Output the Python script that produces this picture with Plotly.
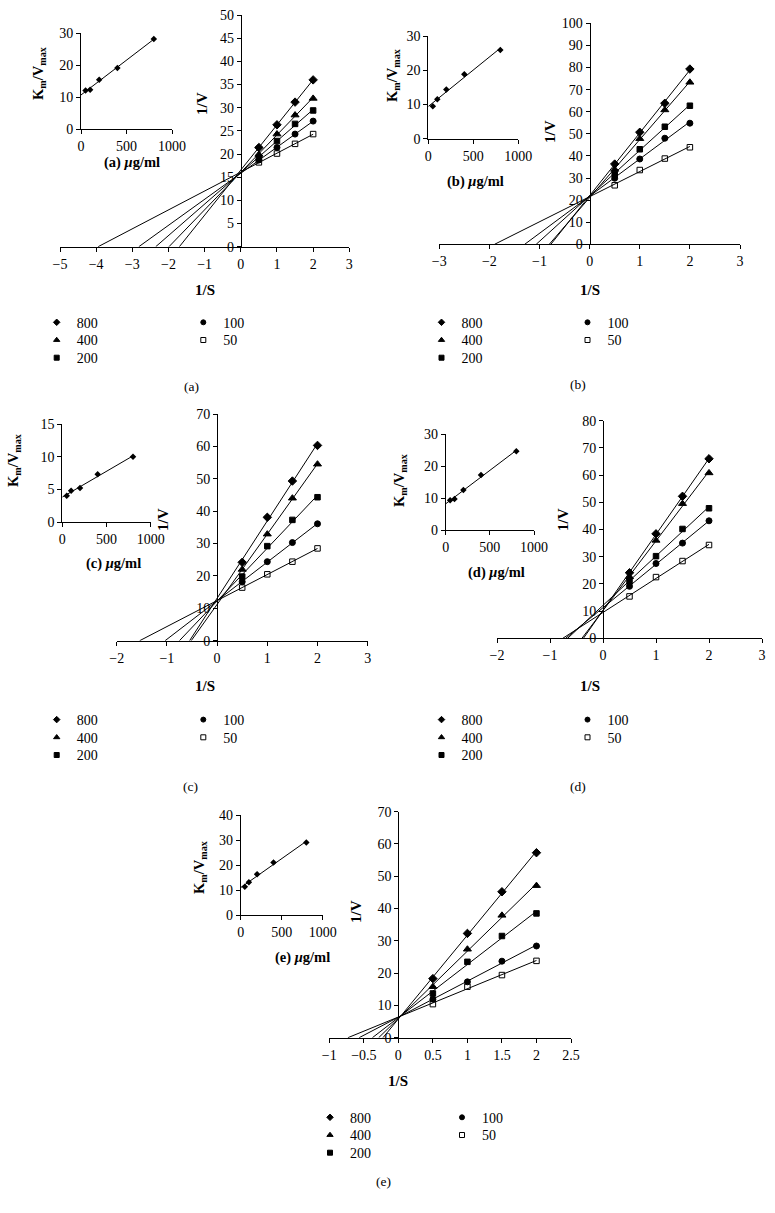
import numpy as np
import plotly.graph_objects as go

W, H = 775, 1213
FONT = "Liberation Serif"

# ---------------- data ----------------
inv_s = [0.5, 1.0, 1.5, 2.0]              # 1/S
inhibitor = [50, 100, 200, 400, 800]      # µg/ml (inset x)
series_names = ["800", "400", "200", "100", "50"]

# panel (a)
a_800 = [21.4, 26.3, 31.2, 36.0]
a_400 = [19.9, 24.3, 28.4, 32.0]
a_200 = [19.3, 22.8, 26.5, 29.4]
a_100 = [18.7, 21.4, 24.3, 27.1]
a_50 = [18.2, 20.1, 22.2, 24.3]
a_km = [12.0, 12.3, 15.4, 19.1, 28.1]

# panel (b)
b_800 = [36.3, 50.7, 63.8, 79.3]
b_400 = [33.9, 47.8, 60.8, 73.3]
b_200 = [31.8, 43.0, 53.2, 62.7]
b_100 = [29.9, 38.6, 48.0, 54.8]
b_50 = [26.7, 33.6, 38.8, 43.9]
b_km = [9.5, 11.5, 14.4, 18.8, 25.9]

# panel (c)
c_800 = [24.2, 38.1, 49.3, 60.3]
c_400 = [22.0, 32.9, 44.0, 54.5]
c_200 = [19.8, 29.2, 37.3, 44.3]
c_100 = [18.2, 24.4, 30.3, 36.1]
c_50 = [16.4, 20.5, 24.4, 28.5]
c_km = [4.0, 4.8, 5.2, 7.3, 10.0]

# panel (d)
d_800 = [24.1, 38.4, 52.2, 66.0]
d_400 = [22.6, 36.0, 49.5, 60.8]
d_200 = [20.9, 30.2, 40.2, 47.8]
d_100 = [19.1, 27.5, 35.0, 43.2]
d_50 = [15.4, 22.5, 28.4, 34.3]
d_km = [9.3, 9.7, 12.5, 17.2, 24.6]

# panel (e)
e_800 = [18.3, 32.3, 45.2, 57.3]
e_400 = [15.8, 27.4, 37.9, 47.1]
e_200 = [13.7, 23.5, 31.5, 38.5]
e_100 = [11.9, 17.3, 23.7, 28.4]
e_50 = [10.4, 15.8, 19.4, 23.8]
e_km = [11.3, 13.1, 16.3, 21.0, 29.0]

# ---------------- layout specs (pixels) ----------------
def fx(px):
    return px / W

def fy(py):
    return 1 - py / H

panels = [
    dict(tag="a", series=[a_800, a_400, a_200, a_100, a_50], km=a_km,
         xr=[-5, 3], xd=1, yr=[0, 50], yd=5, main=(60, 349.3, 15, 246.7),
         ir=[0, 30], idy=10, inset=(81, 172, 33, 129),
         vlab=(202, 103), slab=(205, 290), klab=(39, 73), ulab=(131.7, 163),
         legx=(60.7, 207.3), legy=322.7, plab=(191.7, 386)),
    dict(tag="b", series=[b_800, b_400, b_200, b_100, b_50], km=b_km,
         xr=[-3, 3], xd=1, yr=[0, 100], yd=10, main=(439.3, 740, 23.3, 244.3),
         ir=[0, 30], idy=10, inset=(428.3, 518.3, 36, 138.7),
         vlab=(550, 132), slab=(590, 290), klab=(393, 75), ulab=(475, 181.7),
         legx=(445.5, 591.5), legy=322.7, plab=(578, 385)),
    dict(tag="c", series=[c_800, c_400, c_200, c_100, c_50], km=c_km,
         xr=[-2, 3], xd=1, yr=[0, 70], yd=10, main=(116.7, 367.7, 414, 640.7),
         ir=[0, 15], idy=5, inset=(62.3, 150.7, 424, 522),
         vlab=(163, 520), slab=(205, 686), klab=(14, 460), ulab=(113, 563),
         legx=(60.7, 207.3), legy=720, plab=(190, 786)),
    dict(tag="d", series=[d_800, d_400, d_200, d_100, d_50], km=d_km,
         xr=[-2, 3], xd=1, yr=[0, 80], yd=10, main=(497, 762, 420.7, 638.3),
         ir=[0, 30], idy=10, inset=(445.7, 534, 434, 530),
         vlab=(563, 520), slab=(590, 686), klab=(400, 480), ulab=(496, 573),
         legx=(445.5, 591.5), legy=720, plab=(578, 786)),
    dict(tag="e", series=[e_800, e_400, e_200, e_100, e_50], km=e_km,
         xr=[-1, 2.5], xd=0.5, yr=[0, 70], yd=10, main=(329.3, 571, 811.7, 1037.7),
         ir=[0, 40], idy=10, inset=(240.7, 322.7, 815, 915),
         vlab=(356, 912), slab=(398, 1081), klab=(200, 867), ulab=(302, 957),
         legx=(334, 466), legy=1117.7, plab=(383, 1181)),
]

symbols = ["diamond", "triangle-up", "square", "circle", "square-open"]
msizes = [6.5, 7, 5.5, 6, 5.5]
leg_sizes = [5, 5.5, 5, 5, 5]
ROW = 17.7          # legend row spacing (px)
LEG_LEFT = 24       # legend box left edge relative to symbol position (px)

fig = go.Figure()
layout = dict(
    width=W, height=H, margin=dict(l=0, r=0, t=0, b=0),
    paper_bgcolor="white", plot_bgcolor="white",
    font=dict(family=FONT, color="black", size=13),
    showlegend=True, annotations=[],
)

def axis_common(**kw):
    d = dict(showgrid=False, zeroline=False, showline=True, linecolor="black",
             linewidth=1, ticks="outside", ticklen=4, tickcolor="black",
             tickwidth=1, tickfont=dict(family=FONT, size=14, color="black"),
             automargin=False, fixedrange=True, ticklabeloverflow="allow")
    d.update(kw)
    return d

leg_counter = 0
for i, p in enumerate(panels):
    m_idx = 2 * i + 1
    n_idx = 2 * i + 2
    xm, ym = f"x{m_idx}", f"y{m_idx}"
    xn, yn = f"x{n_idx}", f"y{n_idx}"

    x0p, x1p, ytp, ybp = p["main"]
    xr, yr = p["xr"], p["yr"]
    zero_px = x0p + (0 - xr[0]) / (xr[1] - xr[0]) * (x1p - x0p)

    layout[f"xaxis{m_idx}"] = axis_common(
        domain=[fx(x0p), fx(x1p)], range=xr, dtick=p["xd"], tick0=0,
        anchor=ym)
    layout[f"yaxis{m_idx}"] = axis_common(
        domain=[fy(ybp), fy(ytp)], range=yr, dtick=p["yd"], tick0=0,
        anchor="free", position=fx(zero_px))

    # trendlines (least squares, extended back to 1/V = 0)
    for k, (name, vals) in enumerate(zip(series_names, p["series"])):
        slope, icpt = np.polyfit(inv_s, vals, 1)
        root = -icpt / slope
        xl = [root, inv_s[-1]]
        yl = [slope * root + icpt, slope * inv_s[-1] + icpt]
        fig.add_trace(go.Scatter(x=xl, y=yl, mode="lines",
                                 line=dict(color="black", width=1),
                                 xaxis=xm, yaxis=ym, showlegend=False,
                                 hoverinfo="skip"))
    for k, (name, vals) in enumerate(zip(series_names, p["series"])):
        fig.add_trace(go.Scatter(
            x=inv_s, y=vals, mode="markers", name=name,
            marker=dict(symbol=symbols[k], size=msizes[k], color="black",
                        line=dict(color="black", width=1)),
            xaxis=xm, yaxis=ym, showlegend=False))

    # legend entries: one small legend per row
    for k, name in enumerate(series_names):
        leg_counter += 1
        lid = "legend" if leg_counter == 1 else f"legend{leg_counter}"
        col = 0 if k < 3 else 1
        row = k if k < 3 else k - 3
        mx = p["legx"][col]
        my = p["legy"] + row * ROW
        fig.add_trace(go.Scatter(
            x=[None], y=[None], mode="markers", name=name,
            marker=dict(symbol=symbols[k], size=leg_sizes[k], color="black",
                        line=dict(color="black", width=1)),
            xaxis=xm, yaxis=ym, legend=lid, showlegend=True))
        layout[lid] = dict(x=fx(mx - LEG_LEFT), y=fy(my),
                           xanchor="left", yanchor="middle",
                           bgcolor="rgba(0,0,0,0)", borderwidth=0,
                           tracegroupgap=0, itemwidth=30,
                           font=dict(family=FONT, size=14, color="black"))

    # inset (secondary plot)
    ix0, ix1, iyt, iyb = p["inset"]
    layout[f"xaxis{n_idx}"] = axis_common(
        domain=[fx(ix0), fx(ix1)], range=[0, 1000], dtick=500, tick0=0,
        anchor=yn)
    layout[f"yaxis{n_idx}"] = axis_common(
        domain=[fy(iyb), fy(iyt)], range=p["ir"], dtick=p["idy"], tick0=0,
        anchor=xn)
    s2, c2 = np.polyfit(inhibitor, p["km"], 1)
    xl2 = [0, inhibitor[-1]]
    fig.add_trace(go.Scatter(x=xl2, y=[c2 + s2 * v for v in xl2], mode="lines",
                             line=dict(color="black", width=1),
                             xaxis=xn, yaxis=yn, showlegend=False,
                             hoverinfo="skip"))
    fig.add_trace(go.Scatter(x=inhibitor, y=p["km"], mode="markers",
                             marker=dict(symbol="diamond", size=5, color="black"),
                             xaxis=xn, yaxis=yn, showlegend=False))

    ann = layout["annotations"]
    def add_text(txt, pos, size, angle=0):
        ann.append(dict(text=txt, x=fx(pos[0]), y=fy(pos[1]), xref="paper",
                        yref="paper", showarrow=False, xanchor="center",
                        yanchor="middle", textangle=angle,
                        font=dict(family=FONT, size=size, color="black")))
    add_text("<b>1/V</b>", p["vlab"], 15, -90)
    add_text("<b>1/S</b>", p["slab"], 15)
    add_text("<b>K<sub>m</sub>/V<sub>max</sub></b>", p["klab"], 14.5, -90)
    add_text(f"<b>({p['tag']}) <i>\u03bc</i>g/ml</b>", p["ulab"], 14.5)
    add_text(f"({p['tag']})", p["plab"], 13.5)

fig.update_layout(**layout)
fig.write_html(
    "out.html",
    config={"displayModeBar": False, "staticPlot": True},
    post_script="document.body.style.margin='0px';"
                "document.body.style.overflow='hidden';",
)
